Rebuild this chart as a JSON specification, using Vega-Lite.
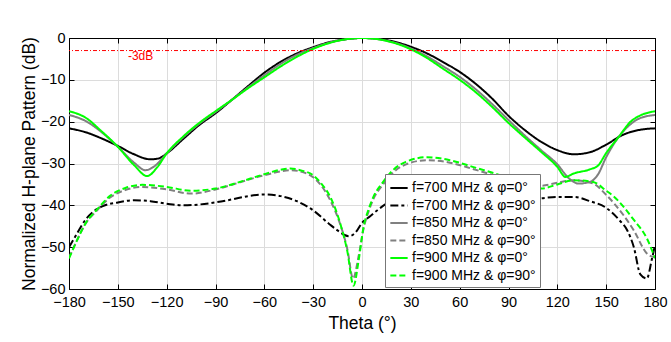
{
  "$schema": "https://vega.github.io/schema/vega-lite/v6.json",
  "width": 586,
  "height": 251,
  "autosize": {"type": "none"},
  "padding": {"left": 69, "top": 38, "right": 16, "bottom": 53},
  "background": "white",
  "config": {
    "font": "Liberation Sans",
    "view": {"stroke": "black", "strokeWidth": 1},
    "axis": {
      "domainColor": "black",
      "tickColor": "black",
      "tickSize": -5,
      "labelColor": "black",
      "labelFontSize": 14.5,
      "labelOverlap": false,
      "labelFlush": false,
      "titleFontSize": 17.5,
      "titleFontWeight": "normal",
      "titleColor": "black",
      "gridColor": "#dcdcdc",
      "gridOpacity": 1
    }
  },
  "datasets": {
    "curves": [
      {"series": "f=700 MHz & φ=0°", "theta": -180, "db": -21.6},
      {"series": "f=700 MHz & φ=0°", "theta": -170, "db": -22.5},
      {"series": "f=700 MHz & φ=0°", "theta": -160, "db": -24},
      {"series": "f=700 MHz & φ=0°", "theta": -150, "db": -25.8},
      {"series": "f=700 MHz & φ=0°", "theta": -140, "db": -27.8},
      {"series": "f=700 MHz & φ=0°", "theta": -130, "db": -29},
      {"series": "f=700 MHz & φ=0°", "theta": -125, "db": -28.8},
      {"series": "f=700 MHz & φ=0°", "theta": -120, "db": -27.6},
      {"series": "f=700 MHz & φ=0°", "theta": -110, "db": -24.2},
      {"series": "f=700 MHz & φ=0°", "theta": -100, "db": -20.8},
      {"series": "f=700 MHz & φ=0°", "theta": -90, "db": -18},
      {"series": "f=700 MHz & φ=0°", "theta": -80, "db": -14.8},
      {"series": "f=700 MHz & φ=0°", "theta": -70, "db": -11.5},
      {"series": "f=700 MHz & φ=0°", "theta": -60, "db": -8.3},
      {"series": "f=700 MHz & φ=0°", "theta": -50, "db": -5.7},
      {"series": "f=700 MHz & φ=0°", "theta": -40, "db": -3.7},
      {"series": "f=700 MHz & φ=0°", "theta": -30, "db": -2.2},
      {"series": "f=700 MHz & φ=0°", "theta": -20, "db": -1},
      {"series": "f=700 MHz & φ=0°", "theta": -10, "db": -0.3},
      {"series": "f=700 MHz & φ=0°", "theta": 0, "db": 0},
      {"series": "f=700 MHz & φ=0°", "theta": 10, "db": -0.2},
      {"series": "f=700 MHz & φ=0°", "theta": 20, "db": -0.9},
      {"series": "f=700 MHz & φ=0°", "theta": 30, "db": -2.1},
      {"series": "f=700 MHz & φ=0°", "theta": 40, "db": -3.7},
      {"series": "f=700 MHz & φ=0°", "theta": 50, "db": -5.8},
      {"series": "f=700 MHz & φ=0°", "theta": 60, "db": -8.1},
      {"series": "f=700 MHz & φ=0°", "theta": 70, "db": -11},
      {"series": "f=700 MHz & φ=0°", "theta": 80, "db": -14.5},
      {"series": "f=700 MHz & φ=0°", "theta": 90, "db": -18.6},
      {"series": "f=700 MHz & φ=0°", "theta": 100, "db": -22},
      {"series": "f=700 MHz & φ=0°", "theta": 110, "db": -24.8},
      {"series": "f=700 MHz & φ=0°", "theta": 120, "db": -26.8},
      {"series": "f=700 MHz & φ=0°", "theta": 130, "db": -27.8},
      {"series": "f=700 MHz & φ=0°", "theta": 140, "db": -27.3},
      {"series": "f=700 MHz & φ=0°", "theta": 150, "db": -25.5},
      {"series": "f=700 MHz & φ=0°", "theta": 160, "db": -23.2},
      {"series": "f=700 MHz & φ=0°", "theta": 170, "db": -22},
      {"series": "f=700 MHz & φ=0°", "theta": 180, "db": -21.6},

      {"series": "f=700 MHz & φ=90°", "theta": -180, "db": -50},
      {"series": "f=700 MHz & φ=90°", "theta": -175, "db": -46.7},
      {"series": "f=700 MHz & φ=90°", "theta": -170, "db": -43.5},
      {"series": "f=700 MHz & φ=90°", "theta": -165, "db": -41.5},
      {"series": "f=700 MHz & φ=90°", "theta": -160, "db": -40.3},
      {"series": "f=700 MHz & φ=90°", "theta": -150, "db": -39.3},
      {"series": "f=700 MHz & φ=90°", "theta": -140, "db": -38.8},
      {"series": "f=700 MHz & φ=90°", "theta": -130, "db": -39},
      {"series": "f=700 MHz & φ=90°", "theta": -120, "db": -39.6},
      {"series": "f=700 MHz & φ=90°", "theta": -110, "db": -40},
      {"series": "f=700 MHz & φ=90°", "theta": -100, "db": -39.8},
      {"series": "f=700 MHz & φ=90°", "theta": -90, "db": -39.3},
      {"series": "f=700 MHz & φ=90°", "theta": -80, "db": -38.6},
      {"series": "f=700 MHz & φ=90°", "theta": -70, "db": -37.8},
      {"series": "f=700 MHz & φ=90°", "theta": -60, "db": -37.4},
      {"series": "f=700 MHz & φ=90°", "theta": -50, "db": -37.8},
      {"series": "f=700 MHz & φ=90°", "theta": -40, "db": -39},
      {"series": "f=700 MHz & φ=90°", "theta": -30, "db": -41.2},
      {"series": "f=700 MHz & φ=90°", "theta": -20, "db": -44.5},
      {"series": "f=700 MHz & φ=90°", "theta": -15, "db": -46},
      {"series": "f=700 MHz & φ=90°", "theta": -8, "db": -47.4},
      {"series": "f=700 MHz & φ=90°", "theta": -4, "db": -46.5},
      {"series": "f=700 MHz & φ=90°", "theta": 0, "db": -44.2},
      {"series": "f=700 MHz & φ=90°", "theta": 5, "db": -42.6},
      {"series": "f=700 MHz & φ=90°", "theta": 10, "db": -41},
      {"series": "f=700 MHz & φ=90°", "theta": 15, "db": -39.6},
      {"series": "f=700 MHz & φ=90°", "theta": 20, "db": -38.8},
      {"series": "f=700 MHz & φ=90°", "theta": 30, "db": -38.3},
      {"series": "f=700 MHz & φ=90°", "theta": 45, "db": -38},
      {"series": "f=700 MHz & φ=90°", "theta": 60, "db": -38},
      {"series": "f=700 MHz & φ=90°", "theta": 75, "db": -38.2},
      {"series": "f=700 MHz & φ=90°", "theta": 90, "db": -38.5},
      {"series": "f=700 MHz & φ=90°", "theta": 100, "db": -38.5},
      {"series": "f=700 MHz & φ=90°", "theta": 110, "db": -38.3},
      {"series": "f=700 MHz & φ=90°", "theta": 120, "db": -38},
      {"series": "f=700 MHz & φ=90°", "theta": 130, "db": -38},
      {"series": "f=700 MHz & φ=90°", "theta": 140, "db": -39},
      {"series": "f=700 MHz & φ=90°", "theta": 150, "db": -40.6},
      {"series": "f=700 MHz & φ=90°", "theta": 158, "db": -43.5},
      {"series": "f=700 MHz & φ=90°", "theta": 163, "db": -46},
      {"series": "f=700 MHz & φ=90°", "theta": 167, "db": -50},
      {"series": "f=700 MHz & φ=90°", "theta": 171, "db": -56.5},
      {"series": "f=700 MHz & φ=90°", "theta": 175, "db": -57.5},
      {"series": "f=700 MHz & φ=90°", "theta": 178, "db": -53},
      {"series": "f=700 MHz & φ=90°", "theta": 180, "db": -49.5},

      {"series": "f=850 MHz & φ=0°", "theta": -180, "db": -18.4},
      {"series": "f=850 MHz & φ=0°", "theta": -170, "db": -19.8},
      {"series": "f=850 MHz & φ=0°", "theta": -160, "db": -22.5},
      {"series": "f=850 MHz & φ=0°", "theta": -150, "db": -26},
      {"series": "f=850 MHz & φ=0°", "theta": -140, "db": -29.8},
      {"series": "f=850 MHz & φ=0°", "theta": -133, "db": -31.6},
      {"series": "f=850 MHz & φ=0°", "theta": -127, "db": -30.5},
      {"series": "f=850 MHz & φ=0°", "theta": -120, "db": -27.6},
      {"series": "f=850 MHz & φ=0°", "theta": -110, "db": -23.8},
      {"series": "f=850 MHz & φ=0°", "theta": -100, "db": -20.5},
      {"series": "f=850 MHz & φ=0°", "theta": -90, "db": -17.7},
      {"series": "f=850 MHz & φ=0°", "theta": -80, "db": -14.8},
      {"series": "f=850 MHz & φ=0°", "theta": -70, "db": -11.8},
      {"series": "f=850 MHz & φ=0°", "theta": -60, "db": -8.9},
      {"series": "f=850 MHz & φ=0°", "theta": -50, "db": -6.2},
      {"series": "f=850 MHz & φ=0°", "theta": -40, "db": -4},
      {"series": "f=850 MHz & φ=0°", "theta": -30, "db": -2.4},
      {"series": "f=850 MHz & φ=0°", "theta": -20, "db": -1.1},
      {"series": "f=850 MHz & φ=0°", "theta": -10, "db": -0.3},
      {"series": "f=850 MHz & φ=0°", "theta": 0, "db": 0},
      {"series": "f=850 MHz & φ=0°", "theta": 10, "db": -0.3},
      {"series": "f=850 MHz & φ=0°", "theta": 20, "db": -1.1},
      {"series": "f=850 MHz & φ=0°", "theta": 30, "db": -2.5},
      {"series": "f=850 MHz & φ=0°", "theta": 40, "db": -4.4},
      {"series": "f=850 MHz & φ=0°", "theta": 50, "db": -6.8},
      {"series": "f=850 MHz & φ=0°", "theta": 60, "db": -9.3},
      {"series": "f=850 MHz & φ=0°", "theta": 70, "db": -12.3},
      {"series": "f=850 MHz & φ=0°", "theta": 80, "db": -15.8},
      {"series": "f=850 MHz & φ=0°", "theta": 90, "db": -19.6},
      {"series": "f=850 MHz & φ=0°", "theta": 100, "db": -23.3},
      {"series": "f=850 MHz & φ=0°", "theta": 110, "db": -26.8},
      {"series": "f=850 MHz & φ=0°", "theta": 120, "db": -30.2},
      {"series": "f=850 MHz & φ=0°", "theta": 127, "db": -33.5},
      {"series": "f=850 MHz & φ=0°", "theta": 133, "db": -34.8},
      {"series": "f=850 MHz & φ=0°", "theta": 140, "db": -34.4},
      {"series": "f=850 MHz & φ=0°", "theta": 145, "db": -32.6},
      {"series": "f=850 MHz & φ=0°", "theta": 150, "db": -28.5},
      {"series": "f=850 MHz & φ=0°", "theta": 158, "db": -23.5},
      {"series": "f=850 MHz & φ=0°", "theta": 165, "db": -20.6},
      {"series": "f=850 MHz & φ=0°", "theta": 170, "db": -19.3},
      {"series": "f=850 MHz & φ=0°", "theta": 180, "db": -18.4},

      {"series": "f=850 MHz & φ=90°", "theta": -180, "db": -52.5},
      {"series": "f=850 MHz & φ=90°", "theta": -175, "db": -48.3},
      {"series": "f=850 MHz & φ=90°", "theta": -170, "db": -44.5},
      {"series": "f=850 MHz & φ=90°", "theta": -163, "db": -41.3},
      {"series": "f=850 MHz & φ=90°", "theta": -155, "db": -38.2},
      {"series": "f=850 MHz & φ=90°", "theta": -145, "db": -36.3},
      {"series": "f=850 MHz & φ=90°", "theta": -135, "db": -35.6},
      {"series": "f=850 MHz & φ=90°", "theta": -120, "db": -36.2},
      {"series": "f=850 MHz & φ=90°", "theta": -105, "db": -37.2},
      {"series": "f=850 MHz & φ=90°", "theta": -90, "db": -36.2},
      {"series": "f=850 MHz & φ=90°", "theta": -75, "db": -34.5},
      {"series": "f=850 MHz & φ=90°", "theta": -62, "db": -33},
      {"series": "f=850 MHz & φ=90°", "theta": -50, "db": -31.9},
      {"series": "f=850 MHz & φ=90°", "theta": -44, "db": -31.6},
      {"series": "f=850 MHz & φ=90°", "theta": -37, "db": -32},
      {"series": "f=850 MHz & φ=90°", "theta": -30, "db": -33.3},
      {"series": "f=850 MHz & φ=90°", "theta": -25, "db": -35.3},
      {"series": "f=850 MHz & φ=90°", "theta": -19.5, "db": -38.8},
      {"series": "f=850 MHz & φ=90°", "theta": -13.4, "db": -44.5},
      {"series": "f=850 MHz & φ=90°", "theta": -9, "db": -50.5},
      {"series": "f=850 MHz & φ=90°", "theta": -5.5, "db": -57.5},
      {"series": "f=850 MHz & φ=90°", "theta": -2, "db": -52},
      {"series": "f=850 MHz & φ=90°", "theta": 1, "db": -45.5},
      {"series": "f=850 MHz & φ=90°", "theta": 4, "db": -41.5},
      {"series": "f=850 MHz & φ=90°", "theta": 7, "db": -38.5},
      {"series": "f=850 MHz & φ=90°", "theta": 13, "db": -35},
      {"series": "f=850 MHz & φ=90°", "theta": 19, "db": -32.2},
      {"series": "f=850 MHz & φ=90°", "theta": 27, "db": -30.2},
      {"series": "f=850 MHz & φ=90°", "theta": 40, "db": -29.2},
      {"series": "f=850 MHz & φ=90°", "theta": 54, "db": -29.8},
      {"series": "f=850 MHz & φ=90°", "theta": 68, "db": -31.3},
      {"series": "f=850 MHz & φ=90°", "theta": 85, "db": -33.3},
      {"series": "f=850 MHz & φ=90°", "theta": 100, "db": -35},
      {"series": "f=850 MHz & φ=90°", "theta": 110, "db": -35.3},
      {"series": "f=850 MHz & φ=90°", "theta": 120, "db": -34.6},
      {"series": "f=850 MHz & φ=90°", "theta": 130, "db": -34},
      {"series": "f=850 MHz & φ=90°", "theta": 142, "db": -34.8},
      {"series": "f=850 MHz & φ=90°", "theta": 150, "db": -37.5},
      {"series": "f=850 MHz & φ=90°", "theta": 155, "db": -39.6},
      {"series": "f=850 MHz & φ=90°", "theta": 167, "db": -46},
      {"series": "f=850 MHz & φ=90°", "theta": 175, "db": -51.5},
      {"series": "f=850 MHz & φ=90°", "theta": 180, "db": -52.5},

      {"series": "f=900 MHz & φ=0°", "theta": -180, "db": -17.5},
      {"series": "f=900 MHz & φ=0°", "theta": -170, "db": -19},
      {"series": "f=900 MHz & φ=0°", "theta": -160, "db": -22.3},
      {"series": "f=900 MHz & φ=0°", "theta": -150, "db": -26},
      {"series": "f=900 MHz & φ=0°", "theta": -140, "db": -30.4},
      {"series": "f=900 MHz & φ=0°", "theta": -132, "db": -33},
      {"series": "f=900 MHz & φ=0°", "theta": -126, "db": -31},
      {"series": "f=900 MHz & φ=0°", "theta": -120, "db": -27.6},
      {"series": "f=900 MHz & φ=0°", "theta": -110, "db": -23.6},
      {"series": "f=900 MHz & φ=0°", "theta": -100, "db": -20.3},
      {"series": "f=900 MHz & φ=0°", "theta": -90, "db": -17.5},
      {"series": "f=900 MHz & φ=0°", "theta": -80, "db": -14.8},
      {"series": "f=900 MHz & φ=0°", "theta": -70, "db": -12},
      {"series": "f=900 MHz & φ=0°", "theta": -60, "db": -9.4},
      {"series": "f=900 MHz & φ=0°", "theta": -50, "db": -6.8},
      {"series": "f=900 MHz & φ=0°", "theta": -40, "db": -4.5},
      {"series": "f=900 MHz & φ=0°", "theta": -30, "db": -2.6},
      {"series": "f=900 MHz & φ=0°", "theta": -20, "db": -1.2},
      {"series": "f=900 MHz & φ=0°", "theta": -10, "db": -0.3},
      {"series": "f=900 MHz & φ=0°", "theta": 0, "db": 0},
      {"series": "f=900 MHz & φ=0°", "theta": 10, "db": -0.3},
      {"series": "f=900 MHz & φ=0°", "theta": 20, "db": -1.2},
      {"series": "f=900 MHz & φ=0°", "theta": 30, "db": -2.7},
      {"series": "f=900 MHz & φ=0°", "theta": 40, "db": -4.8},
      {"series": "f=900 MHz & φ=0°", "theta": 50, "db": -7.4},
      {"series": "f=900 MHz & φ=0°", "theta": 60, "db": -10},
      {"series": "f=900 MHz & φ=0°", "theta": 70, "db": -13},
      {"series": "f=900 MHz & φ=0°", "theta": 80, "db": -16.5},
      {"series": "f=900 MHz & φ=0°", "theta": 90, "db": -20.3},
      {"series": "f=900 MHz & φ=0°", "theta": 100, "db": -23.8},
      {"series": "f=900 MHz & φ=0°", "theta": 110, "db": -27.2},
      {"series": "f=900 MHz & φ=0°", "theta": 120, "db": -30.8},
      {"series": "f=900 MHz & φ=0°", "theta": 125, "db": -33.2},
      {"series": "f=900 MHz & φ=0°", "theta": 130, "db": -32.4},
      {"series": "f=900 MHz & φ=0°", "theta": 140, "db": -31.4},
      {"series": "f=900 MHz & φ=0°", "theta": 145, "db": -30.5},
      {"series": "f=900 MHz & φ=0°", "theta": 150, "db": -27.5},
      {"series": "f=900 MHz & φ=0°", "theta": 158, "db": -23.5},
      {"series": "f=900 MHz & φ=0°", "theta": 165, "db": -20},
      {"series": "f=900 MHz & φ=0°", "theta": 170, "db": -18.7},
      {"series": "f=900 MHz & φ=0°", "theta": 180, "db": -17.5},

      {"series": "f=900 MHz & φ=90°", "theta": -180, "db": -52.7},
      {"series": "f=900 MHz & φ=90°", "theta": -175, "db": -48.3},
      {"series": "f=900 MHz & φ=90°", "theta": -170, "db": -44.4},
      {"series": "f=900 MHz & φ=90°", "theta": -163, "db": -41.1},
      {"series": "f=900 MHz & φ=90°", "theta": -155, "db": -37.8},
      {"series": "f=900 MHz & φ=90°", "theta": -145, "db": -35.8},
      {"series": "f=900 MHz & φ=90°", "theta": -135, "db": -35.1},
      {"series": "f=900 MHz & φ=90°", "theta": -120, "db": -35.6},
      {"series": "f=900 MHz & φ=90°", "theta": -105, "db": -36.5},
      {"series": "f=900 MHz & φ=90°", "theta": -90, "db": -36},
      {"series": "f=900 MHz & φ=90°", "theta": -75, "db": -34.4},
      {"series": "f=900 MHz & φ=90°", "theta": -62, "db": -32.8},
      {"series": "f=900 MHz & φ=90°", "theta": -50, "db": -31.5},
      {"series": "f=900 MHz & φ=90°", "theta": -44, "db": -31.2},
      {"series": "f=900 MHz & φ=90°", "theta": -37, "db": -31.7},
      {"series": "f=900 MHz & φ=90°", "theta": -30, "db": -32.8},
      {"series": "f=900 MHz & φ=90°", "theta": -25, "db": -34.8},
      {"series": "f=900 MHz & φ=90°", "theta": -19.5, "db": -38},
      {"series": "f=900 MHz & φ=90°", "theta": -13.4, "db": -44.3},
      {"series": "f=900 MHz & φ=90°", "theta": -9, "db": -51},
      {"series": "f=900 MHz & φ=90°", "theta": -5.2, "db": -59.2},
      {"series": "f=900 MHz & φ=90°", "theta": -2, "db": -53},
      {"series": "f=900 MHz & φ=90°", "theta": 1, "db": -45.1},
      {"series": "f=900 MHz & φ=90°", "theta": 4, "db": -41},
      {"series": "f=900 MHz & φ=90°", "theta": 7, "db": -38},
      {"series": "f=900 MHz & φ=90°", "theta": 13, "db": -34.4},
      {"series": "f=900 MHz & φ=90°", "theta": 19, "db": -31.6},
      {"series": "f=900 MHz & φ=90°", "theta": 27, "db": -29.6},
      {"series": "f=900 MHz & φ=90°", "theta": 40, "db": -28.5},
      {"series": "f=900 MHz & φ=90°", "theta": 54, "db": -29.2},
      {"series": "f=900 MHz & φ=90°", "theta": 68, "db": -30.8},
      {"series": "f=900 MHz & φ=90°", "theta": 85, "db": -32.8},
      {"series": "f=900 MHz & φ=90°", "theta": 100, "db": -35},
      {"series": "f=900 MHz & φ=90°", "theta": 110, "db": -36},
      {"series": "f=900 MHz & φ=90°", "theta": 120, "db": -35},
      {"series": "f=900 MHz & φ=90°", "theta": 130, "db": -34},
      {"series": "f=900 MHz & φ=90°", "theta": 142, "db": -34.4},
      {"series": "f=900 MHz & φ=90°", "theta": 150, "db": -36.5},
      {"series": "f=900 MHz & φ=90°", "theta": 155, "db": -38},
      {"series": "f=900 MHz & φ=90°", "theta": 167, "db": -43.5},
      {"series": "f=900 MHz & φ=90°", "theta": 175, "db": -47.9},
      {"series": "f=900 MHz & φ=90°", "theta": 180, "db": -52.6}
    ],
    "notes": [
      {"theta": -136, "db": -4.4, "label": "-3dB"}
    ],
    "level": [
      {"db": -3}
    ]
  },
  "resolve": {"axis": {"x": "independent", "y": "independent"}},
  "layer": [
    {
      "data": {"name": "curves"},
      "mark": {"type": "line", "interpolate": "monotone", "strokeWidth": 2, "clip": true},
      "encoding": {
        "x": {
          "field": "theta", "type": "quantitative",
          "scale": {"domain": [-180, 180], "nice": false},
          "axis": {"values": [-180, -150, -120, -90, -60, -30, 0, 30, 60, 90, 120, 150, 180], "title": "Theta (°)", "labelPadding": 11, "titlePadding": 6, "grid": true}
        },
        "y": {
          "field": "db", "type": "quantitative",
          "scale": {"domain": [-60, 0], "nice": false},
          "axis": {"values": [-60, -50, -40, -30, -20, -10, 0], "title": "Normalized H-plane Pattern (dB)", "labelPadding": 9, "titlePadding": 2, "grid": true}
        },
        "color": {
          "field": "series", "type": "nominal",
          "scale": {
            "domain": ["f=700 MHz & φ=0°", "f=700 MHz & φ=90°", "f=850 MHz & φ=0°", "f=850 MHz & φ=90°", "f=900 MHz & φ=0°", "f=900 MHz & φ=90°"],
            "range": ["#000000", "#000000", "#808080", "#808080", "#00ff00", "#00ff00"]
          },
          "legend": {
            "title": null, "orient": "none", "legendX": 316, "legendY": 136,
            "fillColor": "white", "strokeColor": "#777777", "padding": 4,
            "labelFontSize": 14, "labelColor": "black", "labelOffset": 3,
            "symbolType": "stroke", "symbolSize": 300, "symbolStrokeWidth": 2,
            "rowPadding": 0.5
          }
        },
        "strokeDash": {
          "field": "series", "type": "nominal",
          "scale": {
            "domain": ["f=700 MHz & φ=0°", "f=700 MHz & φ=90°", "f=850 MHz & φ=0°", "f=850 MHz & φ=90°", "f=900 MHz & φ=0°", "f=900 MHz & φ=90°"],
            "range": [[1, 0], [8, 3, 3, 3], [1, 0], [6, 3], [1, 0], [6, 3]]
          },
          "legend": {
            "title": null, "orient": "none", "legendX": 316, "legendY": 136,
            "fillColor": "white", "strokeColor": "#777777", "padding": 4,
            "labelFontSize": 14, "labelColor": "black", "labelOffset": 3,
            "symbolType": "stroke", "symbolSize": 300, "symbolStrokeWidth": 2,
            "rowPadding": 0.5
          }
        }
      }
    },
    {
      "data": {"name": "level"},
      "mark": {"type": "rule", "color": "#ff0000", "strokeWidth": 1, "strokeDash": [4, 2, 1, 2]},
      "encoding": {
        "y": {"field": "db", "type": "quantitative",
          "axis": {"orient": "right", "labels": false, "title": null, "grid": false, "values": [-60, -50, -40, -30, -20, -10, 0]}}
      }
    },
    {
      "data": {"name": "notes"},
      "mark": {"type": "text", "color": "#ff0000", "fontSize": 12},
      "encoding": {
        "x": {"field": "theta", "type": "quantitative",
          "axis": {"orient": "top", "labels": false, "title": null, "grid": false, "values": [-180, -150, -120, -90, -60, -30, 0, 30, 60, 90, 120, 150, 180]}},
        "y": {"field": "db", "type": "quantitative", "axis": null},
        "text": {"field": "label"}
      }
    }
  ]
}
